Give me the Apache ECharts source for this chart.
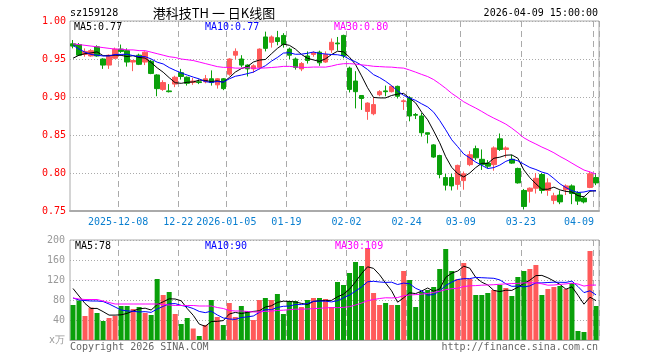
<!DOCTYPE html>
<html><head><meta charset="utf-8">
<script src="https://cdn.jsdelivr.net/npm/echarts@6/dist/echarts.min.js"></script>
<style>html,body{margin:0;padding:0;background:#fff}#c{width:660px;height:360px}</style>
</head><body><div id="c"></div>
<script>
const dates = ['2025-11-26','2025-11-27','2025-11-28','2025-12-01','2025-12-02','2025-12-03','2025-12-04','2025-12-05',
'2025-12-08','2025-12-09','2025-12-10','2025-12-11','2025-12-12','2025-12-15','2025-12-16','2025-12-17','2025-12-18','2025-12-19',
'2025-12-22','2025-12-23','2025-12-24','2025-12-25','2025-12-26','2025-12-29','2025-12-30','2025-12-31',
'2026-01-05','2026-01-06','2026-01-07','2026-01-08','2026-01-09','2026-01-12','2026-01-13','2026-01-14','2026-01-15','2026-01-16',
'2026-01-19','2026-01-20','2026-01-21','2026-01-22','2026-01-23','2026-01-26','2026-01-27','2026-01-28','2026-01-29','2026-01-30',
'2026-02-02','2026-02-03','2026-02-04','2026-02-05','2026-02-06','2026-02-09','2026-02-10','2026-02-11','2026-02-12','2026-02-13',
'2026-02-24','2026-02-25','2026-02-26','2026-02-27','2026-03-02','2026-03-03','2026-03-04','2026-03-05','2026-03-06',
'2026-03-09','2026-03-10','2026-03-11','2026-03-12','2026-03-13','2026-03-16','2026-03-17','2026-03-18','2026-03-19','2026-03-20',
'2026-03-23','2026-03-24','2026-03-25','2026-03-26','2026-03-27','2026-03-30','2026-03-31','2026-04-01','2026-04-02','2026-04-03',
'2026-04-07','2026-04-08','2026-04-09'];

const opens  = [0.970,0.969,0.956,0.954,0.966,0.950,0.942,0.951,0.963,0.961,0.946,0.955,0.946,0.947,0.929,0.910,0.908,0.917,0.932,0.926,
0.919,0.920,0.920,0.924,0.916,0.924,0.930,0.955,0.950,0.942,0.937,0.939,0.979,0.972,0.978,0.981,0.963,0.950,0.937,0.954,
0.956,0.959,0.946,0.962,0.971,0.981,0.938,0.921,0.902,0.881,0.878,0.903,0.908,0.907,0.914,0.894,0.899,0.877,0.875,0.853,
0.837,0.823,0.794,0.794,0.785,0.790,0.811,0.832,0.818,0.813,0.811,0.845,0.831,0.818,0.806,0.777,0.776,0.780,0.798,0.777,
0.764,0.771,0.778,0.783,0.774,0.767,0.781,0.794];
const closes = [0.967,0.955,0.960,0.961,0.954,0.942,0.955,0.963,0.960,0.946,0.948,0.943,0.959,0.931,0.911,0.919,0.907,0.926,0.927,0.918,
0.921,0.919,0.924,0.919,0.924,0.911,0.950,0.960,0.942,0.937,0.941,0.963,0.964,0.979,0.973,0.969,0.955,0.939,0.944,0.948,
0.958,0.945,0.956,0.972,0.970,0.954,0.910,0.907,0.898,0.892,0.890,0.907,0.907,0.914,0.901,0.895,0.875,0.876,0.853,0.851,
0.821,0.798,0.784,0.783,0.810,0.799,0.824,0.820,0.811,0.809,0.833,0.831,0.833,0.813,0.787,0.756,0.780,0.793,0.777,0.787,
0.770,0.762,0.783,0.773,0.763,0.762,0.799,0.787];
const lows   = [0.964,0.954,0.953,0.953,0.953,0.937,0.937,0.950,0.958,0.940,0.934,0.942,0.942,0.930,0.901,0.908,0.906,0.913,0.923,0.915,
0.916,0.917,0.918,0.915,0.911,0.909,0.928,0.950,0.939,0.927,0.932,0.936,0.960,0.965,0.968,0.965,0.950,0.936,0.934,0.944,
0.953,0.941,0.945,0.958,0.961,0.951,0.906,0.885,0.883,0.870,0.876,0.901,0.901,0.906,0.898,0.883,0.868,0.871,0.848,0.839,
0.820,0.793,0.777,0.777,0.778,0.778,0.809,0.817,0.804,0.806,0.803,0.829,0.820,0.812,0.786,0.752,0.761,0.773,0.773,0.770,
0.759,0.759,0.771,0.759,0.758,0.760,0.780,0.784];
const highs  = [0.975,0.971,0.964,0.963,0.968,0.951,0.956,0.965,0.969,0.964,0.948,0.957,0.960,0.949,0.930,0.922,0.917,0.928,0.937,0.927,
0.925,0.923,0.929,0.935,0.925,0.925,0.951,0.964,0.955,0.943,0.943,0.964,0.986,0.981,0.987,0.984,0.965,0.952,0.946,0.960,
0.960,0.961,0.960,0.977,0.979,0.982,0.940,0.934,0.902,0.893,0.900,0.909,0.915,0.915,0.915,0.897,0.901,0.879,0.879,0.853,
0.838,0.824,0.799,0.799,0.811,0.802,0.829,0.836,0.831,0.817,0.835,0.852,0.835,0.824,0.807,0.779,0.781,0.800,0.800,0.793,
0.774,0.777,0.785,0.785,0.776,0.769,0.802,0.800];
const volumes = [70,79,48,65,54,38,44,48,68,68,62,66,54,50,122,90,96,52,32,44,
23,8,30,80,46,30,74,46,68,58,40,80,84,80,92,52,78,78,66,80,
84,84,82,66,116,110,134,156,148,184,94,70,74,70,70,138,120,66,96,100,
106,142,182,138,122,154,122,90,90,94,100,110,104,88,126,138,142,150,90,102,
106,108,102,114,18,16,178,68];

// moving-average values before the window is full
const priceMa5Head  = [0.951,0.955,0.957,0.958];
const priceMa10Head = [0.968,0.963,0.959,0.956,0.955,0.954,0.954,0.956,0.956];
const priceMa30Head = [0.970,0.969,0.968,0.967,0.966,0.965,0.964,0.963,0.963,0.962,0.962,0.961,0.961,0.959,0.957,
0.955,0.953,0.952,0.950,0.949,0.948,0.946,0.944,0.942,0.940,0.939,0.939,0.938,0.938];
const volMa5Head  = [103,88,73,63];
const volMa10Head = [84,80,79,78,78,77,72,66,60];
const volMa30Head = [84,82,81,81,81,78,75,72,72,72,72,72,72,72,72,71,70,69,69,69,69,68,68,68,65,63,59,58,58];

const tickDates = ['2025-12-08','2025-12-22','2026-01-05','2026-01-19','2026-02-02','2026-02-24','2026-03-09','2026-03-23','2026-04-09'];
const tickTexts = ['2025-12-08','12-22','2026-01-05','01-19','02-02','02-24','03-09','03-23','04-09'];
const yTicks = [0.75,0.80,0.85,0.90,0.95,1.00];
const volTicks = [0,40,80,120,160,200];

const headerTexts = {code:'sz159128', title:'港科技TH 一 日K线图', time:'2026-04-09 15:00:00'};
const priceMaTexts = ['MA5:0.77','MA10:0.77','MA30:0.80'];
const volMaTexts = ['MA5:78','MA10:90','MA30:109'];
const footTexts = ['Copyright 2026 SINA.COM','http://finance.sina.com.cn'];

const UP = '#ff5a5a', DOWN = '#0aa00a';
const MONO = '"DejaVu Sans Mono", monospace';

function ma(vals, n, head){
  return vals.map((v,i)=>{
    if(i < n-1) return head[i];
    let s=0; for(let k=i-n+1;k<=i;k++) s+=vals[k];
    return +(s/n).toFixed(4);
  });
}

const ohlc = dates.map((d,i)=>[opens[i],closes[i],lows[i],highs[i]]);
const volData = volumes.map((v,i)=>({value:v,itemStyle:{color: closes[i]>=opens[i]?UP:DOWN}}));
const tickIdx = new Set(tickDates.map(d=>dates.indexOf(d)));
const lastIdx = dates.length-1;

const chart = echarts.init(document.getElementById('c'), null, {renderer:'canvas'});
const gridLineV = {show:true, interval:(i)=>tickIdx.has(i), lineStyle:{color:'#aaa', type:[6,4], width:1}};
const gridLineH = {show:true, lineStyle:{color:'#aaa', type:[1,2], width:1}};

function maLine(data, color, xi){
  return {type:'line', data, xAxisIndex:xi, yAxisIndex:xi, symbol:'none', smooth:false,
    lineStyle:{color, width:1}, itemStyle:{color}, z:5, silent:true};
}

function txt(x,y,text,fill,align,font){
  return {type:'text', x, y, silent:true, z:100,
    style:{text, x:0, y:0, fill, font: font||('10px '+MONO), align, verticalAlign:'middle', textAlign:align, textVerticalAlign:'middle'}};
}

chart.setOption({
  animation:false,
  backgroundColor:'#fff',
  grid:[
    {left:70, top:21, width:529, height:190, show:true, borderColor:'#aaa', borderWidth:1},
    {left:70, top:240, width:529, height:100, show:true, borderColor:'#aaa', borderWidth:1}
  ],
  xAxis:[
    {type:'category', gridIndex:0, data:dates, boundaryGap:true,
     axisLine:{show:true, lineStyle:{color:'#aaa', width:2}}, axisTick:{show:false},
     axisLabel:{show:true, interval:(i)=>tickIdx.has(i), margin:6, color:'#0a7fd0', fontFamily:'DejaVu Sans Mono', fontSize:10,
       formatter:(v,i)=>{const t=tickTexts[tickDates.indexOf(v)]; return (dates.indexOf(v)===lastIdx?'{e|':'{n|')+t+'}';},
       rich:{n:{padding:[0,6,0,0], color:'#0a7fd0', fontFamily:'DejaVu Sans Mono', fontSize:10},
             e:{padding:[0,34,0,0], color:'#0a7fd0', fontFamily:'DejaVu Sans Mono', fontSize:10}}},
     splitLine:gridLineV},
    {type:'category', gridIndex:1, data:dates, boundaryGap:true,
     axisLine:{show:true, lineStyle:{color:'#aaa', width:1}}, axisTick:{show:false}, axisLabel:{show:false},
     splitLine:gridLineV}
  ],
  yAxis:[
    {type:'value', gridIndex:0, min:yTicks[0], max:yTicks[yTicks.length-1], interval:0.05,
     axisLine:{show:false}, axisTick:{show:false},
     axisLabel:{color:'#ff0000', fontFamily:'DejaVu Sans Mono', fontSize:10, margin:4, formatter:(v)=>v.toFixed(2)},
     splitLine:gridLineH},
    {type:'value', gridIndex:1, min:volTicks[0], max:volTicks[volTicks.length-1], interval:40,
     axisLine:{show:false}, axisTick:{show:false},
     axisLabel:{color:'#999', fontFamily:'DejaVu Sans Mono', fontSize:10, margin:5, formatter:(v)=>v===0?'x万':String(v)},
     splitLine:gridLineH}
  ],
  series:[
    {type:'candlestick', data:ohlc, xAxisIndex:0, yAxisIndex:0, barWidth:5,
     itemStyle:{color:UP, color0:DOWN, borderColor:UP, borderColor0:DOWN, borderWidth:1}, z:3},
    maLine(ma(closes,5,priceMa5Head), '#000000', 0),
    maLine(ma(closes,10,priceMa10Head), '#0000ff', 0),
    maLine(ma(closes,30,priceMa30Head), '#ff00ff', 0),
    {type:'bar', data:volData, xAxisIndex:1, yAxisIndex:1, barWidth:5, z:3},
    maLine(ma(volumes,5,volMa5Head), '#000000', 1),
    maLine(ma(volumes,10,volMa10Head), '#0000ff', 1),
    maLine(ma(volumes,30,volMa30Head), '#ff00ff', 1)
  ],
  graphic:[
    txt(70,13,headerTexts.code,'#000','left'),
    txt(214,13,headerTexts.title,'#000','center','13px "Noto Sans CJK SC"'),
    txt(598,13,headerTexts.time,'#000','right'),
    txt(74,27,priceMaTexts[0],'#000','left'),
    txt(205,27,priceMaTexts[1],'#0000ff','left'),
    txt(334,27,priceMaTexts[2],'#ff00ff','left'),
    txt(75,246,volMaTexts[0],'#000','left'),
    txt(205,246,volMaTexts[1],'#0000ff','left'),
    txt(335,246,volMaTexts[2],'#ff00ff','left'),
    txt(70,347,footTexts[0],'#666','left'),
    txt(598,347,footTexts[1],'#666','right')
  ]
});
</script>
</body></html>
